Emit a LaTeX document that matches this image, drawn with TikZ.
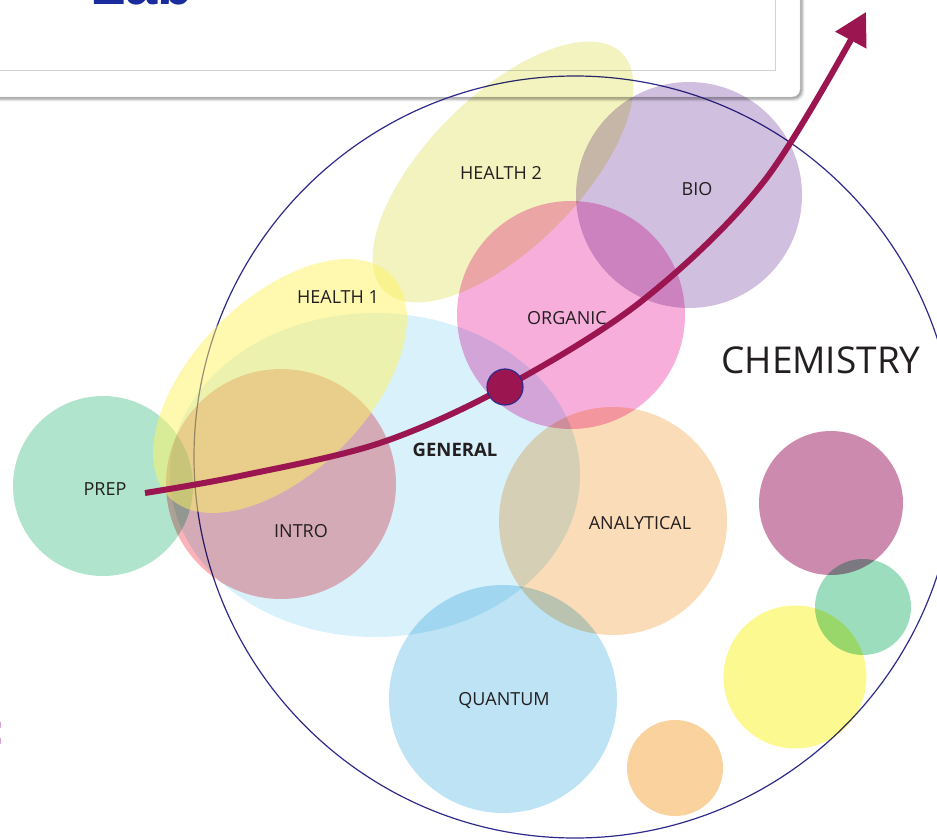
\documentclass[tikz,border=0pt]{standalone}
\usepackage{fontspec}
\setmainfont{Open Sans}
\newfontfamily\headfont{Liberation Sans}
\usetikzlibrary{shapes.geometric, arrows.meta, shadows.blur}

\definecolor{prepgreen}{HTML}{B1E4CC}
\definecolor{introrose}{HTML}{FAB4B9}
\definecolor{generalblue}{HTML}{D9F1FB}
\definecolor{healthone}{HTML}{FFF361}
\definecolor{healthtwo}{HTML}{F2F3BF}
\definecolor{biolilac}{HTML}{D1BFDF}
\definecolor{organicpink}{HTML}{F8AEDB}
\definecolor{analyticpeach}{HTML}{FBDCB8}
\definecolor{quantumblue}{HTML}{BDE3F4}
\definecolor{spotmauve}{HTML}{CC8BAE}
\definecolor{spotgreen}{HTML}{9CDDBD}
\definecolor{spotyellow}{HTML}{FDF991}
\definecolor{spotorange}{HTML}{F9D29E}
\definecolor{chemnavy}{HTML}{2E2A8A}
\definecolor{trackred}{HTML}{9B1651}
\definecolor{titleblue}{HTML}{1A2C9C}
\definecolor{markpurple}{HTML}{9A2A9A}
\definecolor{inkgray}{HTML}{231F20}

\begin{document}
\begin{tikzpicture}[x=1pt, y=-1pt,
    bubble/.style={circle, inner sep=0pt, outer sep=0pt, minimum size=#1},
    blob/.style={ellipse, inner sep=0pt, outer sep=0pt},
    tag/.style={font=\fontsize{18}{20}\selectfont, text=inkgray, inner sep=0pt},
    track/.style={line width=6pt, draw=trackred, -{Triangle[length=32pt, width=34pt]}},
    headbox/.style={draw=gray!30, fill=white, rounded corners=8pt,
                    blur shadow={shadow xshift=2pt, shadow yshift=-2pt,
                                 shadow blur radius=3pt, shadow opacity=45}}
  ]
  \useasboundingbox (0,0) rectangle (937,840);
  \clip (0,0) rectangle (937,840);

  % header panel
  \draw[headbox] (-30,-30) rectangle (800,97);
  \draw[gray!35, line width=1pt] (-10,-10) rectangle (775,71);
  \node[anchor=base west, inner sep=0pt, text=titleblue,
        font=\headfont\bfseries\fontsize{58}{60}\selectfont] (title) at (90,5) {Lab};
  \node[anchor=base west, inner sep=0pt, text=markpurple,
        font=\headfont\bfseries\fontsize{44}{46}\selectfont] (mark) at (-10,744) {:};

  % outer field
  \node[bubble=762pt, draw=chemnavy, line width=1.2pt] (chem) at (575,457) {};

  % fields
  \begin{scope}[blend mode=multiply]
    \node[blob, fill=generalblue, minimum width=410pt, minimum height=324pt] (general) at (375,475) {};
    \node[blob, fill=healthtwo, minimum width=336pt, minimum height=152pt, rotate=45] (health2) at (503,172) {};
    \node[bubble=180pt, fill=prepgreen] (prep) at (103,486) {};
    \node[bubble=230pt, fill=introrose] (intro) at (281,484) {};
    \node[bubble=226pt, fill=biolilac] (bio) at (689,195) {};
    \node[bubble=228pt, fill=organicpink] (organic) at (571,315) {};
    \node[bubble=228pt, fill=analyticpeach] (analytical) at (613,521) {};
    \node[bubble=228pt, fill=quantumblue] (quantum) at (503,699) {};
    \node[bubble=96pt, fill=spotorange] (spot1) at (675,768) {};
    \node[bubble=143pt, fill=spotyellow] (spot2) at (795,677) {};
    \node[bubble=144pt, fill=spotmauve] (spot3) at (831,503) {};
    \node[bubble=96pt, fill=spotgreen] (spot4) at (863,607) {};
  \end{scope}
  \node[blob, fill=healthone, fill opacity=0.5, minimum width=314pt, minimum height=174pt,
        rotate=45] (health1) at (280,386) {};

  % labels
  \node[tag] (health2-l) at (501,173) {HEALTH 2};
  \node[tag] (bio-l) at (697,189) {BIO};
  \node[tag] (health1-l) at (338,297) {HEALTH 1};
  \node[tag] (organic-l) at (567,318) {ORGANIC};
  \node[tag, font=\bfseries\fontsize{18.5}{20}\selectfont] (general-l) at (455,450) {GENERAL};
  \node[tag] (prep-l) at (105,489) {PREP};
  \node[tag] (intro-l) at (301,531) {INTRO};
  \node[tag] (analytical-l) at (640,523) {ANALYTICAL};
  \node[tag] (quantum-l) at (504,700) {QUANTUM};
  \node[tag, font=\fontsize{37}{40}\selectfont] (chem-l) at (821,360) {CHEMISTRY};

  % pathway
  \coordinate (start) at (145,493);
  \coordinate (hub) at (505,387);
  \coordinate (tip) at (866,12);
  \draw[track] plot[smooth, tension=0.55] coordinates
    {(start) (240,476) (380,443) (hub) (643,300) (765,180) (tip)};
  \node[bubble=36pt, fill=trackred, draw=chemnavy, line width=1.2pt] (dot) at (hub) {};
\end{tikzpicture}
\end{document}
